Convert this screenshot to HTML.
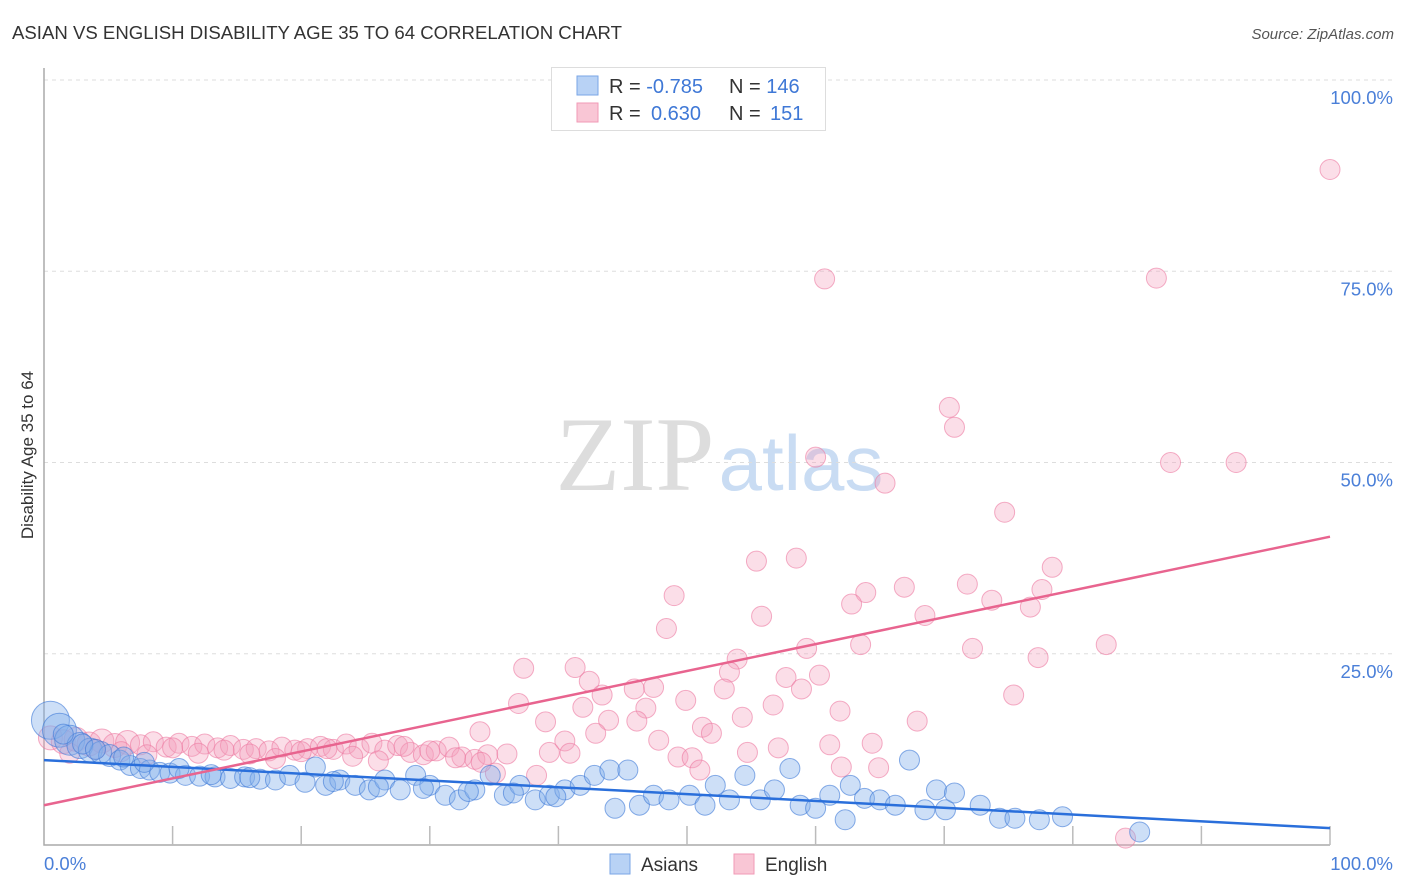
<!DOCTYPE html>
<html><head><meta charset="utf-8"><style>
body{margin:0;background:#fff;font-family:"Liberation Sans",sans-serif;}
svg{display:block}
</style></head><body>
<svg id="chart" width="1406" height="892">
<text x="12" y="39" font-size="18.6" fill="#333">ASIAN VS ENGLISH DISABILITY AGE 35 TO 64 CORRELATION CHART</text>
<text x="1394" y="39" font-size="15" fill="#555" font-style="italic" text-anchor="end">Source: ZipAtlas.com</text>
<text transform="translate(33,455) rotate(-90)" font-size="17" fill="#333" text-anchor="middle">Disability Age 35 to 64</text>
<g><text x="635" y="490" font-size="106" font-family="Liberation Serif,serif" fill="#ddd" text-anchor="middle">ZIP</text><text x="801" y="490" font-size="78" fill="#c9dcf3" text-anchor="middle">atlas</text></g>
<g id="grid"></g><g id="axes"></g><g id="pts"></g><g id="lines"></g>
<g>
<rect x="551.5" y="67.5" width="274" height="63" fill="#fff" stroke="#ddd"/>
<rect x="577" y="76" width="21" height="19" fill="#b8d2f5" stroke="#7aa6e6"/>
<rect x="577" y="103" width="21" height="19" fill="#f9c6d5" stroke="#f19ab6"/>
<text x="609" y="93" font-size="20" fill="#333">R = <tspan fill="#3f78d6">-0.785</tspan><tspan x="729">N = </tspan><tspan fill="#3f78d6">146</tspan></text>
<text x="609" y="120" font-size="20" fill="#333">R = <tspan x="651" fill="#3f78d6">0.630</tspan><tspan x="729">N = </tspan><tspan x="770" fill="#3f78d6">151</tspan></text>
</g>
<g>
<rect x="610" y="854" width="20" height="20" fill="#b8d2f5" stroke="#7aa6e6"/>
<text x="641" y="871" font-size="19" fill="#333">Asians</text>
<rect x="734" y="854" width="20" height="20" fill="#f9c6d5" stroke="#f19ab6"/>
<text x="765" y="871" font-size="19" fill="#333">English</text>
</g>
</svg>
<script>
const yTicks=[25,50,75,100];
const xTickLabels=["0.0%","100.0%"];
const asianX=[0.5,1.2,2,2.8,3.6,4.4,5.1,5.9,6.7,7.5,8.2,9,9.8,11,12.1,13.3,14.5,15.6,16.8,18,19.1,20.3,21.1,21.9,23,24.2,25.3,26.5,27.7,28.9,30,31.2,32.3,33.5,34.7,35.8,37,38.2,39.3,40.5,41.7,42.8,44,44.4,45.4,46.3,47.4,48.6,50.2,51.4,52.2,53.3,54.5,55.7,56.8,58,58.8,60,61.1,62.3,62.7,63.8,65,66.2,67.3,68.5,69.4,70.1,70.8,72.8,74.3,75.5,77.4,79.2,85.2,1.5,3,4,6.2,7.8,10.5,13,16,22.5,26,29.5,33,36.5,39.8];
const asianY=[16.3,15,13.7,13,12.4,12.1,11.7,11.1,10.4,10,9.8,9.5,9.4,9.1,9,8.9,8.7,8.9,8.6,8.5,9.1,8.2,10.2,7.8,8.5,7.8,7.2,8.5,7.2,9.1,7.8,6.5,5.9,7.2,9.1,6.5,7.8,5.9,6.5,7.2,7.8,9.1,9.8,4.8,9.8,5.2,6.5,5.9,6.5,5.2,7.8,5.9,9.1,5.9,7.2,10,5.2,4.8,6.5,3.3,7.8,6.1,5.9,5.2,11.1,4.6,7.2,4.6,6.8,5.2,3.5,3.5,3.3,3.7,1.7,14.5,13.2,12.5,11.5,10.8,10,9.2,8.8,8.3,7.6,7.4,7,6.8,6.3];
const asianR=[19,17,15,13,12,11,11,10,10,10];
const englishX=[60.7,86.5,100,70.4,70.8,60,87.6,92.7,65.4,74.7,55.4,58.5,78.4,49,66.9,71.8,63.9,77.6,62.8,73.7,76.7,68.5,55.8,48.4,59.3,63.5,72.2,82.6,77.3,53.9,37.3,41.3,53.3,60.3,42.4,57.7,47.4,43.4,45.9,52.9,58.9,75.4,49.9,36.9,41.9,46.8,56.7,61.9,43.9,39,46.1,54.3,67.9,51.2,51.9,33.9,42.9,40.5,47.8,57.1,61.1,64.4,54.7,39.3,40.9,49.3,50.4,64.9,62,51,38.3,35.1,84.1,
0.5,1.5,2.5,3.5,4.5,5.5,6.5,7.5,8.5,9.5,10.5,11.5,12.5,13.5,14.5,15.5,16.5,17.5,18.5,19.5,20.5,21.5,22.5,23.5,24.5,25.5,26.5,27.5,28.5,29.5,30.5,31.5,32.5,33.5,34.5,2,4,6,8,10,12,14,16,18,20,22,24,26,28,30,32,34,36];
const englishY=[74,74.1,88.3,57.2,54.6,50.7,50,50,47.3,43.5,37.1,37.5,36.3,32.6,33.7,34.1,33,33.4,31.5,32,31.1,30,29.9,28.3,25.7,26.2,25.7,26.2,24.5,24.3,23.1,23.2,22.6,22.2,21.4,21.9,20.6,19.6,20.4,20.4,20.4,19.6,18.9,18.5,18,17.9,18.3,17.5,16.3,16.1,16.2,16.7,16.2,15.4,14.6,14.8,14.6,13.6,13.7,12.7,13.1,13.3,12.1,12.1,12,11.5,11.4,10.1,10.2,9.8,9.1,9.4,0.9,
14,13.5,13.8,13.2,13.6,13,13.4,13.1,13.5,12.8,13.3,12.9,13.2,12.7,13,12.5,12.6,12.3,12.8,12.4,12.6,12.9,12.5,13.2,12.6,13.3,12.4,13,12.1,11.8,12.3,12.8,11.5,11.2,11.8,12,12.5,12.2,11.8,12.7,12,12.4,11.9,11.3,12.2,12.6,11.6,11,12.9,12.3,11.4,10.8,11.9];
const asianTrend=[11.1,2.2];
const englishTrend=[5.2,40.3];
const NS="http://www.w3.org/2000/svg";
const X0=44,X1=1330,Y0=845,Y100=80;
const sx=v=>X0+(X1-X0)*v/100, sy=v=>Y0-(Y0-Y100)*v/100;
function mk(t,a,p){const e=document.createElementNS(NS,t);for(const k in a)e.setAttribute(k,a[k]);p.appendChild(e);return e;}
const grid=document.getElementById('grid'),axes=document.getElementById('axes'),pts=document.getElementById('pts'),lines=document.getElementById('lines');
yTicks.forEach(t=>{
 const l=mk('line',{x1:X0,x2:1394,y1:sy(t),y2:sy(t),stroke:'#ddd','stroke-dasharray':'4,4'},grid);
 
 
 const tx=mk('text',{x:1393,y:sy(t)+24,'font-size':18.5,fill:'#4a7fd8','text-anchor':'end'},grid);
 tx.textContent=t.toFixed(1)+'%';
 
 
});
const ax=mk('path',{d:`M${X0} 68V${Y0}H${X1}`,stroke:'#aaa',fill:'none','stroke-width':1.5},axes);


for(let i=1;i<=10;i++){const t=mk('line',{x1:sx(i*10),x2:sx(i*10),y1:Y0-19,y2:Y0,stroke:'#bbb','stroke-width':1.5},axes);
 
 }
const xl0=mk('text',{x:44,y:870,'font-size':18.5,fill:'#4a7fd8'},axes);xl0.textContent=xTickLabels[0];


const xl1=mk('text',{x:1393,y:870,'font-size':18.5,fill:'#4a7fd8','text-anchor':'end'},axes);xl1.textContent=xTickLabels[1];


englishX.forEach((x,i)=>{const c=mk('circle',{cx:sx(x),cy:sy(englishY[i]),r:i>=73&&i<80?12:10,fill:'rgba(244,160,188,0.35)',stroke:'rgba(236,120,160,0.6)'},pts);
 
 });
asianX.forEach((x,i)=>{const c=mk('circle',{cx:sx(x),cy:sy(asianY[i]),r:asianR[i]||10,fill:'rgba(130,175,235,0.4)',stroke:'rgba(60,120,215,0.6)'},pts);
 
 });
const bl=mk('line',{x1:sx(0),y1:sy(asianTrend[0]),x2:sx(100),y2:sy(asianTrend[1]),stroke:'#2a6fdb','stroke-width':2.5},lines);


const pl=mk('line',{x1:sx(0),y1:sy(englishTrend[0]),x2:sx(100),y2:sy(englishTrend[1]),stroke:'#e8648f','stroke-width':2.5},lines);


</script>
</body></html>
